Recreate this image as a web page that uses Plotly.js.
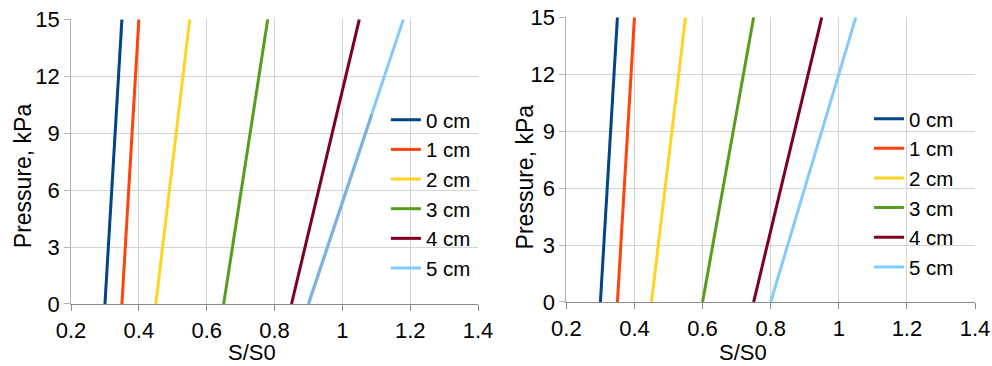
<!DOCTYPE html>
<html><head><meta charset="utf-8">
<script src="https://cdn.plot.ly/plotly-3.0.1.min.js"></script>
<style>html,body{margin:0;padding:0;background:#fff}#c{width:992px;height:366px}</style>
</head><body><div id="c"></div>
<script>
const seriesNames = ["0 cm","1 cm","2 cm","3 cm","4 cm","5 cm"];
const pressure = [0, 15];
// left panel: S/S0 at P=0 and P=15
const leftX = [[0.30,0.35],[0.35,0.40],[0.45,0.55],[0.65,0.78],[0.85,1.05],[0.90,1.18]];
// left 5 cm lower segment drawn in a darker shade
const left5LowX = [0.90, 1.087];
const left5LowP = [0, 10];
// right panel
const rightX = [[0.30,0.35],[0.35,0.40],[0.45,0.55],[0.60,0.75],[0.75,0.95],[0.80,1.05]];
const xTicks = [0.2,0.4,0.6,0.8,1,1.2,1.4];
const xTickText = ["0.2","0.4","0.6","0.8","1","1.2","1.4"];
const yTicks = [0,3,6,9,12,15];
const xTitle = "S/S0";
const yTitle = "Pressure, kPa";

const colors = ["#004586","#ff420e","#ffd320","#579d1c","#7e0021","#83caff"];
const font = "Liberation Sans, Arial, sans-serif";
const traces = [];
leftX.forEach((xs,i)=>{
  traces.push({x:xs,y:pressure,type:"scatter",mode:"lines",name:seriesNames[i],
    line:{color:colors[i],width:3},xaxis:"x",yaxis:"y",legend:"legend"});
});
traces.push({x:left5LowX,y:left5LowP,type:"scatter",mode:"lines",showlegend:false,
  line:{color:"#80b1dc",width:3},xaxis:"x",yaxis:"y",hoverinfo:"skip"});
rightX.forEach((xs,i)=>{
  traces.push({x:xs,y:pressure,type:"scatter",mode:"lines",name:seriesNames[i],
    line:{color:colors[i],width:3},xaxis:"x2",yaxis:"y2",legend:"legend2"});
});
function xa(domain, anchor){
  return {domain:domain,anchor:anchor,range:[0.2,1.4],tickvals:xTicks,ticktext:xTickText,
    showgrid:true,gridcolor:"#d4d4d4",gridwidth:1,zeroline:false,
    showline:true,linecolor:"#8a8a8a",linewidth:1,ticks:"outside",ticklen:6,tickcolor:"#8a8a8a",
    ticklabelstandoff:1,
    tickfont:{family:font,size:22,color:"#000"}};
}
function ya(domain, anchor){
  return {domain:domain,anchor:anchor,range:[0,15],tickvals:yTicks,
    showgrid:true,gridcolor:"#d4d4d4",gridwidth:1,zeroline:false,
    showline:true,linecolor:"#b3b3b3",linewidth:1,ticks:"outside",ticklen:6,tickcolor:"#b3b3b3",
    tickfont:{family:font,size:22,color:"#000"}};
}
const tfont = {family:font,size:23,color:"#000"};
const xtfont = {family:font,size:22,color:"#000"};
const layout = {
  width:992,height:366,margin:{l:0,r:0,t:0,b:0},paper_bgcolor:"#fff",plot_bgcolor:"#fff",
  showlegend:true,
  xaxis:xa([0.0716,0.4819],"y"),
  yaxis:ya([0.1694,0.9473],"x"),
  xaxis2:xa([0.5709,0.9829],"y2"),
  yaxis2:ya([0.1749,0.9527],"x2"),
  annotations:[
    {text:xTitle,xref:"paper",yref:"paper",x:0.2545,y:0,xanchor:"center",yanchor:"bottom",borderpad:0,showarrow:false,font:xtfont},
    {text:xTitle,xref:"paper",yref:"paper",x:0.7485,y:0,xanchor:"center",yanchor:"bottom",borderpad:0,showarrow:false,font:xtfont},
    {text:yTitle,xref:"paper",yref:"paper",x:0.0227,y:0.520,xanchor:"center",yanchor:"middle",textangle:-90,showarrow:false,font:tfont},
    {text:yTitle,xref:"paper",yref:"paper",x:0.5292,y:0.518,xanchor:"center",yanchor:"middle",textangle:-90,showarrow:false,font:tfont}
  ],
  legend:{x:0.389,y:0.727,xanchor:"left",yanchor:"top",bgcolor:"rgba(0,0,0,0)",
    font:{family:font,size:20.5,color:"#000"},tracegroupgap:0,itemwidth:30},
  legend2:{x:0.876,y:0.730,xanchor:"left",yanchor:"top",bgcolor:"rgba(0,0,0,0)",
    font:{family:font,size:20.5,color:"#000"},tracegroupgap:0,itemwidth:30}
};
Plotly.newPlot("c",traces,layout,{displayModeBar:false,staticPlot:true});
</script></body></html>
